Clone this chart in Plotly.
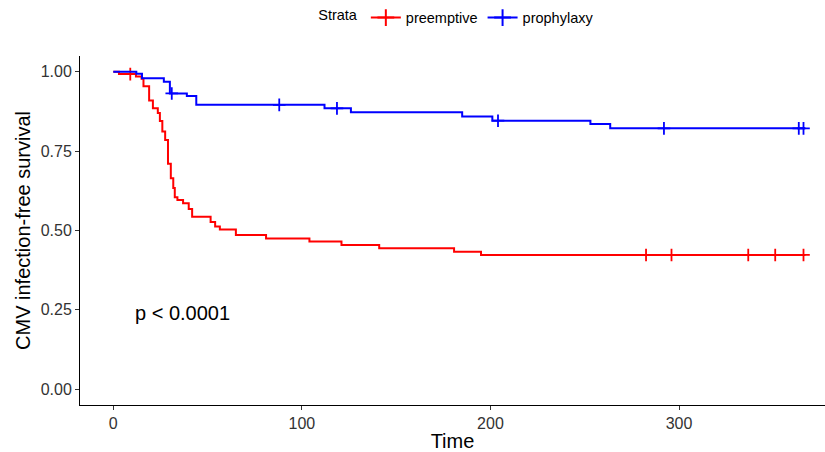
import numpy as np
import plotly.graph_objects as go

# ---- data ----
pre_times = [0, 3, 12, 15, 16, 19, 21, 23.6, 24.7, 26, 27.5, 29, 30.5, 31.8, 32.6, 34, 37, 40, 41.8,
             51.6, 54, 56.5, 65, 81, 104, 121, 141, 180.7, 195]
pre_surv = [1.0, 0.993, 0.985, 0.978, 0.955, 0.91, 0.885, 0.87, 0.845, 0.812, 0.785, 0.71, 0.665,
            0.634, 0.605, 0.596, 0.586, 0.568, 0.543, 0.527, 0.513, 0.503, 0.486, 0.475, 0.465,
            0.454, 0.444, 0.433, 0.423]
pre_censor = [9, 282.5, 296, 336.7, 351, 366]
pre_end = 367

pro_times = [0, 12.2, 15.2, 26.8, 30, 39, 44, 112, 126, 185, 201, 253, 263.5]
pro_surv = [1.0, 0.994, 0.980, 0.969, 0.932, 0.924, 0.896, 0.885, 0.873, 0.859, 0.846, 0.836, 0.822]
pro_censor = [31, 88, 118.6, 204, 292, 363.5, 366]
pro_end = 367

strata = ["preemptive", "prophylaxy"]
colors = ["#FF0000", "#0000FF"]
pval_text = "p < 0.0001"
x_ticks = [0, 100, 200, 300]
y_ticks = [0, 0.25, 0.5, 0.75, 1.0]
y_ticklabels = ["0.00", "0.25", "0.50", "0.75", "1.00"]

FONT = "Liberation Sans, Arial, sans-serif"
mk = dict(symbol="cross-thin", size=9)

fig = go.Figure()
for times, surv, censor, end, name, color in [
        (pre_times, pre_surv, pre_censor, pre_end, strata[0], colors[0]),
        (pro_times, pro_surv, pro_censor, pro_end, strata[1], colors[1])]:
    xs = list(times) + [end]
    ys = list(surv) + [surv[-1]]
    idx = np.searchsorted(np.array(times), np.array(censor), side="right") - 1
    cy = [surv[i] for i in idx]
    fig.add_trace(go.Scatter(
        x=xs, y=ys, mode="lines", line=dict(color=color, width=2, shape="hv"),
        name=name, legendgroup=name, showlegend=False))
    fig.add_trace(go.Scatter(
        x=censor, y=cy, mode="markers", name=name, legendgroup=name, showlegend=False,
        marker=dict(**mk, line=dict(color=color, width=1.8), color=color)))
    fig.add_trace(go.Scatter(
        x=[None], y=[None], mode="lines+markers", name=name, legendgroup=name,
        line=dict(color=color, width=2),
        marker=dict(symbol="cross-thin", size=12, line=dict(color=color, width=2), color=color)))

fig.add_annotation(x=10.5, y=0.24, xref="x", yref="y", text=pval_text, showarrow=False,
                   xanchor="left", yanchor="middle",
                   font=dict(family=FONT, size=20, color="black"))

fig.update_layout(
    width=825, height=452,
    margin=dict(l=80, r=0, t=56, b=47),
    paper_bgcolor="white", plot_bgcolor="white",
    font=dict(family=FONT, color="black"),
    legend=dict(orientation="h", x=0.507, xanchor="center", y=1.11, yanchor="middle",
                title=dict(text="Strata", font=dict(size=14.5)), font=dict(size=14.5),
                itemwidth=30),
    xaxis=dict(range=[-17.66, 377.4], tickvals=x_ticks, showgrid=False, zeroline=False,
               showline=True, linecolor="black", linewidth=1, ticks="outside", ticklen=4,
               tickcolor="#333333", tickfont=dict(size=16, color="#333333"),
               title=dict(text="Time", font=dict(size=20), standoff=3)),
    yaxis=dict(range=[-0.05, 1.05], tickvals=y_ticks, ticktext=y_ticklabels,
               showgrid=False, zeroline=False,
               showline=True, linecolor="black", linewidth=1, ticks="outside", ticklen=4,
               tickcolor="#333333", tickfont=dict(size=16, color="#333333"),
               title=dict(text="CMV infection-free survival", font=dict(size=20), standoff=4)),
)

fig.write_html("out.html", config={"displayModeBar": False})
with open("out.html", "r", encoding="utf-8") as f:
    html = f.read()
html = html.replace("<head>", "<head><style>html,body{margin:0;padding:0;overflow:hidden;}</style>", 1)
with open("out.html", "w", encoding="utf-8") as f:
    f.write(html)
